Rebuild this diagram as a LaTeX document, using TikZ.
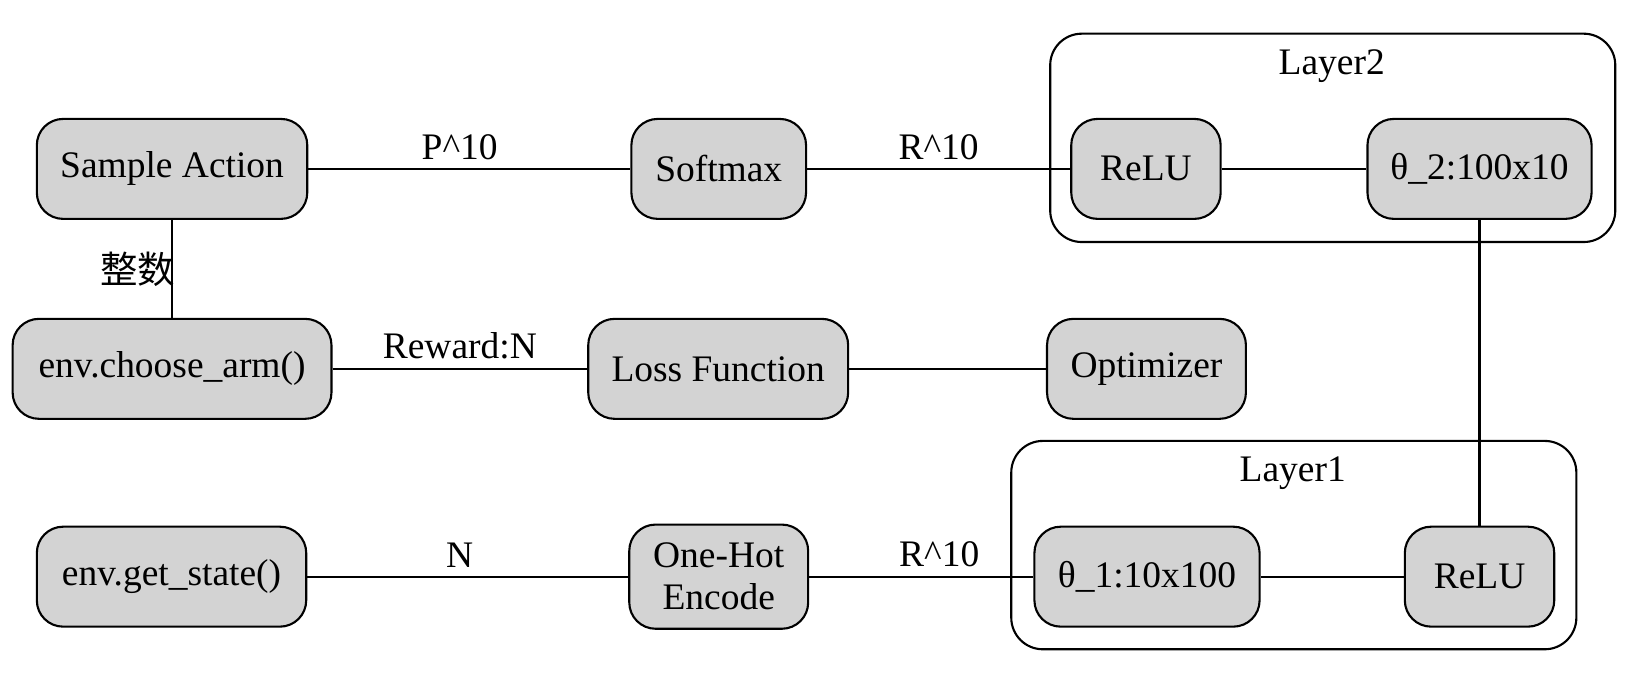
\documentclass[tikz,border=0pt]{standalone}
\usepackage{fontspec}
\setmainfont{Liberation Serif}
\newfontfamily\cjk{Noto Sans CJK SC}
\usepackage{tikz}
\definecolor{boxgray}{RGB}{211,211,211}
\tikzset{
  opbox/.style={draw, line width=1pt, fill=boxgray, rounded corners=12.5pt,
    minimum height=47.5pt, inner sep=0pt, align=center},
  layerbox/.style={draw, line width=1pt, rounded corners=15pt,
    minimum width=268.5pt, minimum height=99pt},
  link/.style={line width=1pt},
  lbl/.style={above=3pt, inner sep=1pt}
}
\newcommand{\opnode}[5]{\node[opbox, minimum width=#4] (#1) at (#2,#3) {#5};}
\newcommand{\layer}[4]{
\node[layerbox] (#1) at (#2,#3) {};
\node (#1-title) at (#2-1,#3-68) {#4};
}
\begin{document}
\begin{tikzpicture}[x=0.5pt, y=-0.5pt, font=\fontsize{17.8}{20}\selectfont]
\useasboundingbox (0,0) rectangle (1568,649);
\layer{layertwo}{1266.5}{131}{Layer2}
\layer{layerone}{1229.5}{518}{Layer1}
\opnode{sample}{163.5}{160.5}{128.5pt}{Sample Action}
\opnode{softmax}{683}{160.5}{83pt}{Softmax}
\opnode{relutwo}{1089}{160.5}{71pt}{ReLU}
\opnode{thetatwo}{1406}{160.5}{106.5pt}{θ\_2:100x10}
\opnode{choose}{163.5}{350.5}{151.5pt}{env.choose\_arm()}
\opnode{loss}{682.5}{350.5}{123.5pt}{Loss Function}
\opnode{optim}{1089.5}{350.5}{94.5pt}{Optimizer}
\opnode{getstate}{163}{548}{128pt}{env.get\_state()}
\node[opbox, minimum width=85pt, minimum height=49.5pt] (onehot) at (683,548) {One-Hot\\Encode};
\opnode{thetaone}{1090}{548}{107pt}{θ\_1:10x100}
\opnode{reluone}{1406}{548}{71pt}{ReLU}
\draw[link] (sample) -- node[lbl, pos=0.47] {P\textasciicircum 10} (softmax);
\draw[link] (softmax) -- node[lbl] {R\textasciicircum 10} (relutwo);
\draw[link] (relutwo) -- (thetatwo);
\draw[link] (thetatwo) -- (reluone);
\draw[link] (reluone) -- (thetaone);
\draw[link] (onehot) -- node[lbl, pos=0.58] {R\textasciicircum 10} (thetaone);
\draw[link] (getstate) -- node[lbl, pos=0.475] {N} (onehot);
\draw[link] (choose) -- node[lbl] {Reward:N} (loss);
\draw[link] (loss) -- (optim);
\draw[link] (sample) -- node[anchor=east, xshift=3pt, inner sep=1pt] {\cjk 整数} (choose);
\end{tikzpicture}
\end{document}
